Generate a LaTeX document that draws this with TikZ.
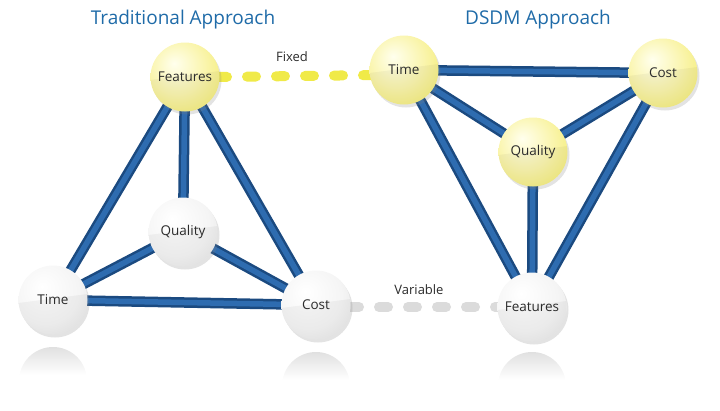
\documentclass[tikz,border=0pt]{standalone}
\usepackage{fontspec}
\setmainfont{Open Sans}
\usetikzlibrary{shadows,calc}
\definecolor{ttl}{HTML}{1F6BA8}
\definecolor{bdark}{HTML}{1B4A80}
\definecolor{blight}{HTML}{2E6CB0}
\definecolor{dashyel}{HTML}{F0EA48}
\definecolor{txt}{HTML}{2B2B2B}
\pgfdeclareradialshading{ygloss}{\pgfpoint{-8bp}{10bp}}{%
  rgb(0bp)=(1,1,0.93); rgb(20bp)=(0.98,0.96,0.68); rgb(40bp)=(0.95,0.92,0.42); rgb(56bp)=(0.91,0.87,0.28); rgb(70bp)=(0.91,0.87,0.28)}
\pgfdeclareradialshading{ggloss}{\pgfpoint{-8bp}{10bp}}{%
  rgb(0bp)=(1,1,1); rgb(24bp)=(0.96,0.96,0.96); rgb(44bp)=(0.88,0.88,0.88); rgb(58bp)=(0.80,0.80,0.80); rgb(70bp)=(0.80,0.80,0.80)}
\tikzset{
  link/.style={line width=10.5pt, draw=bdark, line cap=butt},
  linkin/.style={line width=5.5pt, draw=blight, line cap=butt},
  ball/.style={circle, minimum size=69pt, inner sep=0pt, font=\fontsize{13.5}{15}\selectfont, text=txt,
     drop shadow={shadow xshift=2pt, shadow yshift=-3pt, opacity=0.22},
     path picture={\fill[black,opacity=0.04] ($(path picture bounding box.west)+(0,3)$) -- ($(path picture bounding box.east)+(0,-6)$) -- (path picture bounding box.south east) -- (path picture bounding box.south west) -- cycle;}},
  yball/.style={ball, shade, shading=ygloss},
  gball/.style={ball, shade, shading=ggloss},
  fixdash/.style={line width=10pt, draw=dashyel, line cap=round, dash pattern=on 9pt off 20pt},
  vardash/.style={line width=10pt, draw=black!14, line cap=round, dash pattern=on 9pt off 20pt},
  title/.style={font=\fontsize{19}{22}\selectfont, text=ttl},
  lbl/.style={font=\fontsize{13}{15}\selectfont, text=txt}
}
\begin{document}
\begin{tikzpicture}[x=1pt,y=-1pt]
\useasboundingbox (0,0) rectangle (720,410);
% reflections
\foreach \cx/\cy in {53/347, 316/352, 532/352}{
  \begin{scope}
    \clip (\cx,\cy+34) circle[radius=34];
    \shade[top color=black!12, bottom color=white] (\cx-36,\cy) rectangle (\cx+36,\cy+28);
  \end{scope}
}
% coordinates
\coordinate (LF) at (185,77);
\coordinate (LQ) at (183,232);
\coordinate (LT) at (53,300);
\coordinate (LC) at (316,305);
\coordinate (RT) at (404,70);
\coordinate (RC) at (663,73);
\coordinate (RQ) at (533,152);
\coordinate (RF) at (532,307);
\coordinate (fixA) at (218,77);
\coordinate (fixB) at (380,75);
\coordinate (varA) at (350,307);
\coordinate (varB) at (505,307);
% dashed connectors
\draw[fixdash] (fixA) -- (fixB);
\draw[vardash] (varA) -- (varB);
% links
\foreach \a/\b in {LF/LQ, LF/LT, LF/LC, LQ/LT, LQ/LC, LT/LC, RT/RC, RT/RQ, RC/RQ, RT/RF, RC/RF, RQ/RF}{
  \draw[link] (\a) -- (\b);
}
\foreach \a/\b in {LF/LQ, LF/LT, LF/LC, LQ/LT, LQ/LC, LT/LC, RT/RC, RT/RQ, RC/RQ, RT/RF, RC/RF, RQ/RF}{
  \draw[linkin] (\a) -- (\b);
}
% balls
\node[yball] (nLF) at (LF) {Features};
\node[gball] (nLQ) at (LQ) {Quality};
\node[gball] (nLT) at (LT) {Time};
\node[gball] (nLC) at (LC) {Cost};
\node[yball] (nRT) at (RT) {Time};
\node[yball] (nRC) at (RC) {Cost};
\node[yball] (nRQ) at (RQ) {Quality};
\node[gball] (nRF) at (RF) {Features};
% titles and labels
\node[title] (t1) at (183,20) {Traditional Approach};
\node[title] (t2) at (538,20) {DSDM Approach};
\node[lbl] (fx) at (292,57) {Fixed};
\node[lbl] (vr) at (419,290) {Variable};
\end{tikzpicture}
\end{document}
